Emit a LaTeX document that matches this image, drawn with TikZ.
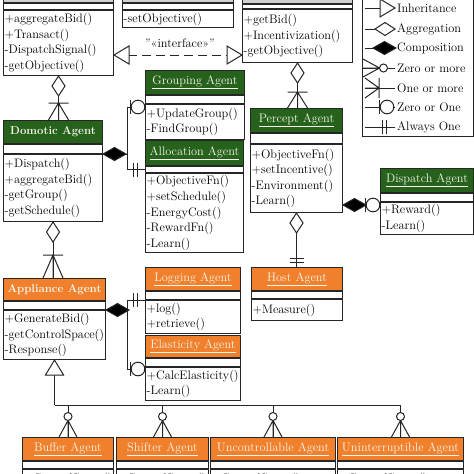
\documentclass[tikz,border=0pt]{standalone}
\usepackage{fontspec}
\usetikzlibrary{calc}

\definecolor{hdgreen}{RGB}{38,98,28}
\definecolor{hdorange}{RGB}{240,128,44}
\definecolor{hdgray}{RGB}{208,208,208}
\definecolor{hdtext}{RGB}{246,246,236}

\begin{document}
\begin{tikzpicture}[x=1pt,y=-1pt,line join=miter,
  every node/.style={inner sep=0pt},
  box/.style={draw=black!85,line width=1pt,anchor=north west},
  hdr/.style={box,text=hdtext,font=\fontsize{12.3}{14}\selectfont},
  hgreen/.style={hdr,fill=hdgreen},
  horange/.style={hdr,fill=hdorange},
  hgray/.style={hdr,fill=hdgray},
  hbold/.style={font=\fontsize{11.4}{14}\selectfont\bfseries},
  blank/.style={box,fill=white},
  ops/.style={box,fill=white,align=left,inner xsep=1.2pt,font=\fontsize{12.3}{15.6}\selectfont},
  lgd/.style={anchor=west,font=\fontsize{12.3}{14}\selectfont},
  con/.style={line width=1pt,draw=black!85},
  pics/hollowdia/.style={code={\draw[con,fill=white] (0,0) -- (10,-6.5) -- (20,0) -- (10,6.5) -- cycle;}},
  pics/soliddia/.style={code={\draw[con,fill=black] (0,0) -- (11.5,-6.5) -- (23,0) -- (11.5,6.5) -- cycle;}},
  pics/inherit/.style={code={\draw[con,fill=white] (0,0) -- (15,-9) -- (15,9) -- cycle;}},
  pics/onemany/.style={code={\draw[con] (0,-10) -- (#1,0) -- (0,10) (0,0) -- (#1,0) (#1,-10) -- (#1,10);}},
  pics/zeromany/.style={code={\draw[con] (0,-9) -- (16.5,0) -- (0,9) (0,0) -- (16.5,0); \draw[con,fill=white] (20.5,0) circle[radius=4];}},
  pics/zeroone/.style={code={\draw[con] (14.5,-7) -- (14.5,7); \draw[con,fill=white] (7,0) circle[radius=6.8];}},
  pics/onlyone/.style={code={\draw[con] (#1,-7) -- (#1,7) (#1+4,-7) -- (#1+4,7);}}]
  \useasboundingbox (0,0) rectangle (474,474);
  \clip (0,0) rectangle (474,474);
  \fill[white] (0,0) rectangle (474,474);

  % top row, headers cut off
  \node[hgray,minimum width=110pt,minimum height=27pt] (aggr) at (3,-25) {};
  \node[blank,minimum width=110pt,minimum height=6pt] (aggrrow) at (aggr.south west) {};
  \node[ops,text width=107.6pt,minimum height=65pt] (aggrops) at (aggrrow.south west) {+aggregateBid()\\+Transact()\\-DispatchSignal()\\-getObjective()};
  \node[hgray,minimum width=111pt,minimum height=27pt] (obj) at (122,-25) {};
  \node[blank,minimum width=111pt,minimum height=6pt] (objrow) at (obj.south west) {};
  \node[ops,text width=108.6pt,minimum height=17pt] (objops) at (objrow.south west) {-setObjective()};
  \node[hgray,minimum width=110pt,minimum height=28pt] (inc) at (242,-25) {};
  \node[blank,minimum width=110pt,minimum height=4pt] (incrow) at (inc.south west) {};
  \node[ops,text width=107.6pt,minimum height=53pt] (incops) at (incrow.south west) {+getBid()\\+Incentivization()\\-getObjective()};

  % legend
  \node[box,minimum width=111pt,minimum height=150pt,anchor=south west] (legend) at (362,137) {};
  \node[lgd] (lginh) at (397,8) {Inheritance};
  \node[lgd] (lgagg) at (397,29) {Aggregation};
  \node[lgd] (lgcmp) at (397,48) {Composition};
  \node[lgd] (lgzm) at (397,68) {Zero or more};
  \node[lgd] (lgom) at (397,88) {One or more};
  \node[lgd] (lgzo) at (397,107) {Zero or One};
  \node[lgd] (lgao) at (397,127) {Always One};
  \foreach \n in {lginh,lgagg,lgcmp,lgom,lgzo,lgao} {
    \draw[con] ($(legend.west |- \n)+(3,0)$) -- ($(\n.west)+(-2,0)$);
  }
  \draw[con] ($(legend.west |- lgzm)+(1,0)$) -- ($(lgzm.west)+(-2,0)$);
  \pic[rotate=180] at ($(lginh.west)+(-2,0)$) {inherit};
  \pic[rotate=180] at ($(lgagg.west)+(-2,0)$) {hollowdia};
  \pic[rotate=180] at ($(lgcmp.west)+(-1,0)$) {soliddia};
  \pic at ($(legend.west |- lgzm)+(1,0)$) {zeromany};
  \pic at ($(legend.west |- lgom)+(3,0)$) {onemany=14};
  \pic[rotate=180] at ($(lgzo.west)+(-3,0)$) {zeroone};
  \pic[rotate=180] at ($(lgao.west)+(-3,0)$) {onlyone=8};

  % agents
  \node[hgreen,hbold,minimum width=99pt,minimum height=23pt] (dom) at (3,120) {Domotic Agent};
  \node[blank,minimum width=99pt,minimum height=9pt] (domrow) at (dom.south west) {};
  \node[ops,text width=96.6pt,minimum height=67pt] (domops) at (domrow.south west) {+Dispatch()\\+aggregateBid()\\-getGroup()\\-getSchedule()};

  \node[hgreen,minimum width=99pt,minimum height=24pt] (grp) at (145,70) {\underline{Grouping Agent}};
  \node[blank,minimum width=99pt,minimum height=8pt] (grprow) at (grp.south west) {};
  \node[ops,text width=96.6pt,minimum height=35pt] (grpops) at (grprow.south west) {+UpdateGroup()\\-FindGroup()};

  \node[hgreen,minimum width=98pt,minimum height=25pt] (alc) at (145,140) {\underline{Allocation Agent}};
  \node[blank,minimum width=98pt,minimum height=6pt] (alcrow) at (alc.south west) {};
  \node[ops,text width=95.6pt,minimum height=79pt] (alcops) at (alcrow.south west) {+ObjectiveFn()\\+setSchedule()\\-EnergyCost()\\-RewardFn()\\-Learn()};

  \node[hgreen,minimum width=92pt,minimum height=24pt] (perc) at (250,108) {\underline{Percept Agent}};
  \node[blank,minimum width=92pt,minimum height=10pt] (percrow) at (perc.south west) {};
  \node[ops,text width=89.6pt,minimum height=68pt] (percops) at (percrow.south west) {+ObjectiveFn()\\+setIncentive()\\-Environment()\\-Learn()};

  \node[hgreen,minimum width=93pt,minimum height=24pt] (disp) at (380,168) {\underline{Dispatch Agent}};
  \node[blank,minimum width=93pt,minimum height=8pt] (disprow) at (disp.south west) {};
  \node[ops,text width=90.6pt,minimum height=32pt] (dispops) at (disprow.south west) {+Reward()\\-Learn()};

  \node[horange,hbold,minimum width=102pt,minimum height=22pt] (app) at (3,278) {Appliance Agent};
  \node[blank,minimum width=102pt,minimum height=8pt] (approw) at (app.south west) {};
  \node[ops,text width=99.6pt,minimum height=49pt] (appops) at (approw.south west) {+GenerateBid()\\-getControlSpace()\\-Response()};

  \node[horange,minimum width=95pt,minimum height=23pt] (log) at (145,267) {\underline{Logging Agent}};
  \node[blank,minimum width=95pt,minimum height=8pt] (logrow) at (log.south west) {};
  \node[ops,text width=92.6pt,minimum height=33pt] (logops) at (logrow.south west) {+log()\\+retrieve()};

  \node[horange,minimum width=95pt,minimum height=22pt] (ela) at (145,335) {\underline{Elasticity Agent}};
  \node[blank,minimum width=95pt,minimum height=8pt] (elarow) at (ela.south west) {};
  \node[ops,text width=92.6pt,minimum height=33pt] (elaops) at (elarow.south west) {+CalcElasticity()\\-Learn()};

  \node[horange,minimum width=91pt,minimum height=23pt] (host) at (251,267) {\underline{Host Agent}};
  \node[blank,minimum width=91pt,minimum height=7pt] (hostrow) at (host.south west) {};
  \node[ops,text width=88.6pt,minimum height=21pt] (hostops) at (hostrow.south west) {+Measure()};

  % bottom row, bodies cut off
  \node[horange,minimum width=91pt,minimum height=23pt] (buf) at (22,437) {\underline{Buffer Agent}};
  \node[blank,minimum width=91pt,minimum height=7pt] (bufrow) at (buf.south west) {};
  \node[ops,text width=88.6pt,minimum height=20pt] (bufops) at (bufrow.south west) {+ControlSpace()};
  \node[horange,minimum width=92pt,minimum height=23pt] (shf) at (116,437) {\underline{Shifter Agent}};
  \node[blank,minimum width=92pt,minimum height=7pt] (shfrow) at (shf.south west) {};
  \node[ops,text width=89.6pt,minimum height=20pt] (shfops) at (shfrow.south west) {+ControlSpace()};
  \node[horange,minimum width=125pt,minimum height=23pt] (unc) at (210,437) {\underline{Uncontrollable Agent}};
  \node[blank,minimum width=125pt,minimum height=7pt] (uncrow) at (unc.south west) {};
  \node[ops,text width=122.6pt,minimum height=20pt] (uncops) at (uncrow.south west) {+ControlSpace()};
  \node[horange,minimum width=126pt,minimum height=23pt] (uni) at (337,437) {\underline{Uninterruptible Agent}};
  \node[blank,minimum width=126pt,minimum height=7pt] (unirow) at (uni.south west) {};
  \node[ops,text width=123.6pt,minimum height=20pt] (uniops) at (unirow.south west) {+ControlSpace()};

  % interface link
  \coordinate (ifl) at ($(aggrops.south east)+(0,-21)$);
  \draw[con,dash pattern=on 9pt off 5pt] (ifl) -- (incops.west |- ifl);
  \pic at (ifl) {inherit};
  \pic[rotate=180] at (incops.west |- ifl) {inherit};
  \node[font=\fontsize{12.3}{14}\selectfont] (iflbl) at (180,43) {"«interface»"};

  % vertical links
  \draw[con] (aggrops.south) -- (aggrops.south |- dom.north);
  \pic[rotate=-90] at (aggrops.south) {hollowdia};
  \pic[rotate=90] at (aggrops.south |- dom.north) {onemany=17};
  \draw[con] (domops.south) -- (domops.south |- app.north);
  \pic[rotate=-90] at (domops.south) {hollowdia};
  \pic[rotate=90] at (domops.south |- app.north) {onemany=23};
  \draw[con] (incops.south) -- (incops.south |- perc.north);
  \pic[rotate=-90] at (incops.south) {hollowdia};
  \pic[rotate=90] at (incops.south |- perc.north) {onemany=16};
  \draw[con] (percops.south) -- (percops.south |- host.north);
  \pic[rotate=-90] at (percops.south) {hollowdia};
  \pic[rotate=90] at (percops.south |- host.north) {onlyone=5};

  % percept to dispatch
  \coordinate (pd) at ($(percops.south east)+(0,-8)$);
  \draw[con] (pd) -- (dispops.west |- pd);
  \pic at (pd) {soliddia};
  \pic[rotate=180] at (dispops.west |- pd) {zeroone};

  % domotic to grouping and allocation
  \coordinate (dbus) at ($(domops.north east)+(24,0)$);
  \draw[con] (domops.north east) -- (dbus);
  \draw[con] ($(grpops.north west)+(0,3)$) -| (dbus |- alcrow.west) -- (alcrow.west);
  \pic at (domops.north east) {soliddia};
  \pic[rotate=180] at ($(grpops.north west)+(0,3)$) {zeroone};
  \pic[rotate=180] at (alcrow.west) {onlyone=8};

  % appliance to logging and elasticity
  \coordinate (abus) at ($(appops.north east)+(21,0)$);
  \draw[con] (appops.north east) -- (abus);
  \draw[con] (logops.north west) -| ($(abus |- elaops.north)+(0,2)$) -- ($(elaops.north west)+(0,2)$);
  \pic at (appops.north east) {soliddia};
  \pic[rotate=180] at (logops.north west) {onlyone=8};
  \pic[rotate=180] at ($(elaops.north west)+(0,2)$) {zeroone};

  % appliance subclasses
  \coordinate (ibus) at ($(appops.south)+(0,45)$);
  \draw[con] (appops.south) -- (ibus);
  \foreach \n in {buf,shf,unc,uni} {
    \draw[con] (ibus) -| (\n.north);
    \pic[rotate=90] at (\n.north) {zeromany};
  }
  \pic[rotate=-90] at (appops.south) {inherit};
\end{tikzpicture}
\end{document}
